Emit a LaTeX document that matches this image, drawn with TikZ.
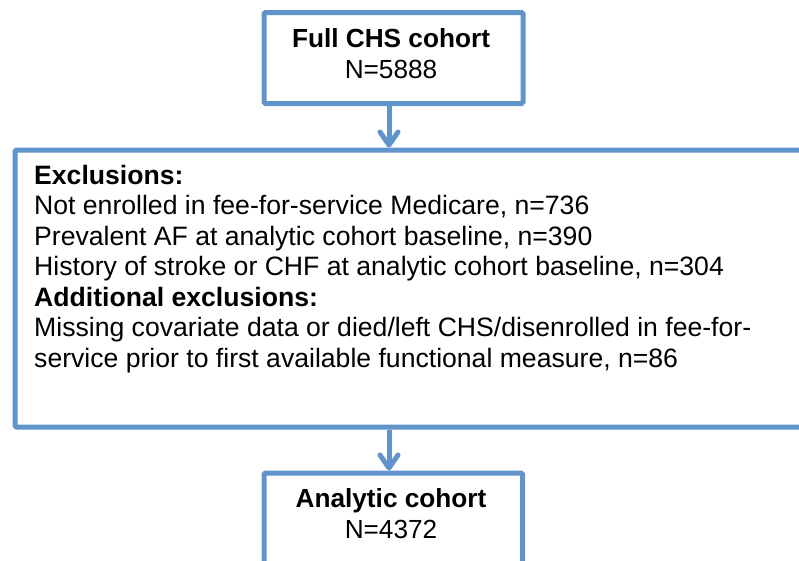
\documentclass[tikz,border=0pt]{standalone}
\usepackage{fontspec}
\setmainfont{Liberation Sans}
\usetikzlibrary{arrows.meta}
\definecolor{boxblue}{RGB}{98,148,204}
\tikzset{
  box/.style={draw=boxblue, line width=5pt, rounded corners=1.5pt, fill=white,
    inner sep=0pt, anchor=north west},
  flowarrow/.style={draw=boxblue, line width=5pt,
    -{Straight Barb[length=13pt, width=18pt, line cap=round, line join=round]}},
  label/.style={anchor=base, inner sep=0pt, font=\fontsize{26.2}{31}\selectfont},
  bodytext/.style={anchor=base west, inner sep=0pt, align=left,
    font=\fontsize{26.6}{30.55}\selectfont}
}
\begin{document}
\begin{tikzpicture}[x=1pt, y=-1pt]
  \useasboundingbox (0,0) rectangle (799,560);
  \clip (0,0) rectangle (799,560);

  % boxes
  \node[box, minimum width=259pt, minimum height=91pt] (full) at (261.5,10) {};
  \node[box, minimum width=810pt, minimum height=277pt] (excl) at (12.5,147.5) {};
  \node[box, minimum width=258.5pt, minimum height=120pt] (analytic) at (261.5,470.5) {};

  % connectors
  \coordinate (a1) at ([xshift=-4.5pt]full.south);
  \draw[flowarrow] (a1) -- (a1 |- excl.north);
  \coordinate (a2) at (a1 |- excl.south);
  \draw[flowarrow] (a2) -- (a2 |- analytic.north);

  % top box text
  \node[label] (fulltitle) at (391,47) {\bfseries Full CHS cohort};
  \node[label] (fulln) at (391,78) {N=5888};

  % exclusions text (anchored at the baseline of its last line)
  \node[bodytext] (excltext) at (34,367.5) {%
    \textbf{Exclusions:}\\
    Not enrolled in fee-for-service Medicare, n=736\\
    Prevalent AF at analytic cohort baseline, n=390\\
    History of stroke or CHF at analytic cohort baseline, n=304\\
    \textbf{Additional exclusions:}\\
    Missing covariate data or died/left CHS/disenrolled in fee-for-\\
    service prior to first available functional measure, n=86};

  % bottom box text
  \node[label] (antitle) at (391,507) {\bfseries Analytic cohort};
  \node[label] (ann) at (391,538) {N=4372};
\end{tikzpicture}
\end{document}
